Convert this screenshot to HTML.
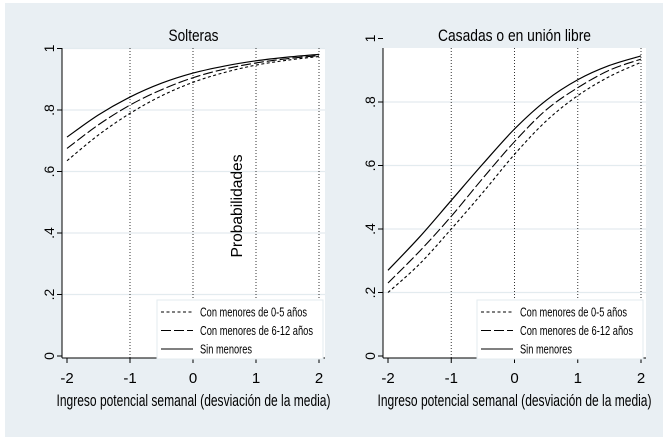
<!DOCTYPE html>
<html><head><meta charset="utf-8"><style>
html,body{margin:0;padding:0;background:#fff;}
svg{display:block;font-family:"Liberation Sans Narrow","Liberation Sans",sans-serif;}
</style></head><body>
<svg id="c" width="668" height="442" xmlns="http://www.w3.org/2000/svg">
<rect x="5" y="3" width="658" height="434" fill="#e9eff3"/>
</svg>
<script>
const xTicks=[-2,-1,0,1,2];
const yTicks=[0,0.2,0.4,0.6,0.8,1];
const yTickLabels=["0",".2",".4",".6",".8","1"];
const xs=[-2,-1.5,-1,-0.5,0,0.5,1,1.5,2];
const solShort=[0.635,0.719,0.789,0.846,0.89,0.922,0.946,0.962,0.974];
const solLong=[0.675,0.752,0.816,0.866,0.905,0.933,0.953,0.967,0.977];
const solSolid=[0.712,0.784,0.842,0.887,0.92,0.943,0.96,0.972,0.981];
const casShort=[0.2,0.29,0.40,0.515,0.635,0.74,0.82,0.88,0.925];
const casLong=[0.23,0.33,0.44,0.56,0.675,0.775,0.845,0.9,0.935];
const casSolid=[0.27,0.375,0.49,0.605,0.715,0.805,0.87,0.915,0.945];
const legendLabels=["Con menores de 0-5 años","Con menores de 6-12 años","Sin menores"];
const legendWidths=[107,113,52];
const NS="http://www.w3.org/2000/svg";
const svg=document.getElementById('c');
function mk(t,a,p){const e=document.createElementNS(NS,t);for(const k in a)e.setAttribute(k,a[k]);(p||svg).appendChild(e);return e;}
function smooth(pts){let d=`M${pts[0][0]},${pts[0][1]}`;for(let i=0;i<pts.length-1;i++){const p0=pts[Math.max(0,i-1)],p1=pts[i],p2=pts[i+1],p3=pts[Math.min(pts.length-1,i+2)];
const c1=[p1[0]+(p2[0]-p0[0])/6,p1[1]+(p2[1]-p0[1])/6],c2=[p2[0]-(p3[0]-p1[0])/6,p2[1]-(p3[1]-p1[1])/6];
d+=` C${c1[0]},${c1[1]} ${c2[0]},${c2[1]} ${p2[0]},${p2[1]}`;}return d;}
function panel(o){
const g=mk('g',{});


const X=v=>o.x0+(v+2)/4*(o.x1-o.x0);
const Y=v=>o.y0+(o.y1-o.y0)*v;
const pa=mk('rect',{x:o.left,y:48,width:o.right-o.left,height:358-48,fill:'#fff'},g);

yTicks.forEach((t,i)=>{const y=Y(t);
if(t>0&&y>=48){const gl=mk('line',{x1:o.left,x2:o.right,y1:y,y2:y,stroke:'#e3ebef','stroke-width':1.2},g);}
mk('line',{x1:o.left-5,x2:o.left,y1:y,y2:y,stroke:'#000'},g);
const tx=mk('text',{x:0,y:0,'font-size':14,'text-anchor':'middle',transform:`translate(${o.left-8},${y}) rotate(-90)`},g);
tx.textContent=yTickLabels[i];});
xTicks.forEach(t=>{const x=X(t);
if(t>-2){const vl=mk('line',{x1:x,x2:x,y1:48,y2:358,stroke:'#333','stroke-width':1,'stroke-dasharray':'1,2'},g);}
mk('line',{x1:x,x2:x,y1:358,y2:363,stroke:'#000'},g);
const tx=mk('text',{x:x,y:383,'font-size':15,'text-anchor':'middle'},g);tx.textContent=String(t);
});
mk('line',{x1:o.left,x2:o.left,y1:48,y2:358,stroke:'#000'},g);
mk('line',{x1:o.left,x2:o.right,y1:358,y2:358,stroke:'#000'},g);
const styles=[['3,2.5',1.1],['10,3',1.1],['none',1.2]];
[o.s,o.l,o.f].forEach((arr,k)=>{const p=mk('path',{d:smooth(xs.map((v,i)=>[X(v),Y(arr[i])])),fill:'none',stroke:'#000','stroke-width':styles[k][1],'stroke-dasharray':styles[k][0]},g);
});
const lg=mk('g',{},g);
mk('rect',{x:o.lx,y:300,width:166,height:59,fill:'#fff',stroke:'#e3ebef'},lg);
legendLabels.forEach((lab,k)=>{const y=312+k*18.5;
mk('line',{x1:o.lx+4,x2:o.lx+36,y1:y,y2:y,stroke:'#000','stroke-width':1.1,'stroke-dasharray':styles[k][0]},lg);
const t=mk('text',{x:o.lx+43,y:y+4.5,'font-size':13,textLength:legendWidths[k],lengthAdjust:'spacingAndGlyphs'},lg);t.textContent=lab;});
const ti=mk('text',{x:(o.left+o.right)/2,y:41,'font-size':17,'text-anchor':'middle',textLength:o.tw,lengthAdjust:'spacingAndGlyphs'},g);ti.textContent=o.title;

const xt=mk('text',{x:(o.left+o.right)/2,y:406,'font-size':17,'text-anchor':'middle',textLength:274,lengthAdjust:'spacingAndGlyphs'},g);xt.textContent='Ingreso potencial semanal (desviación de la media)';

}
panel({name:'panel-solteras',title:'Solteras',tw:50,left:62,right:325,x0:67,x1:319,y0:356,y1:48.5,lx:157,s:solShort,l:solLong,f:solSolid});
panel({name:'panel-casadas',title:'Casadas o en unión libre',tw:153,left:383,right:646,x0:388,x1:641,y0:356,y1:38.5,lx:477,s:casShort,l:casLong,f:casSolid});
const yt=mk('text',{x:0,y:0,'font-size':16,'text-anchor':'middle',textLength:103,lengthAdjust:'spacingAndGlyphs',transform:'translate(242,206) rotate(-90)'});
yt.textContent='Probabilidades';


</script>
</body></html>
